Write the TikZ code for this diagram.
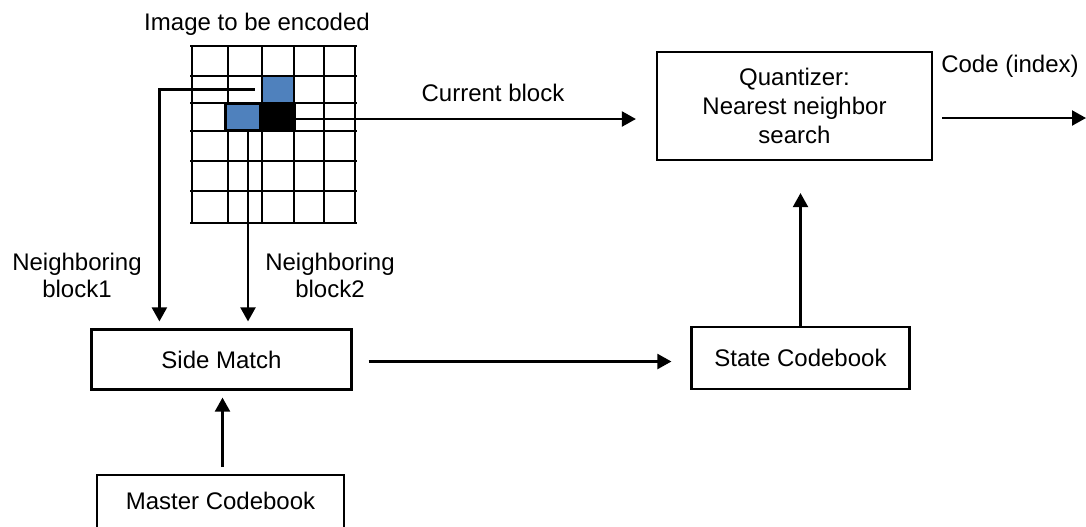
\documentclass[tikz,border=0pt]{standalone}
\usepackage{fontspec}
\setmainfont{Liberation Sans}
\usetikzlibrary{arrows.meta}
\definecolor{cellblue}{RGB}{79,129,189}
\tikzset{
  box/.style={draw, line width=1.1pt, inner sep=0pt},
  cell/.style={draw, line width=1.1pt, inner sep=0pt, minimum height=13.5pt},
  arr/.style={line width=1.1pt, -{Triangle[length=7pt,width=7.5pt]}},
  ln/.style={line width=1.1pt},
}
\begin{document}
\begin{tikzpicture}[x=0.5pt,y=-0.5pt,font=\fontsize{12}{14.5}\selectfont]
        \useasboundingbox (0,0) rectangle (1086,526);
        % image to be encoded
        \foreach \x in {192,228,262,294,324,355}
            \draw[ln] (\x,46) -- (\x,223);
        \foreach \y in {46,76,103,131,161,191,223}
            \draw[ln] (190,\y) -- (357,\y);
        \node[cell, fill=cellblue, minimum width=16pt] (nb1) at (278,89.5) {};
        \node[cell, fill=cellblue, minimum width=17.5pt] (nb2) at (243,117) {};
        \node[cell, fill=black, minimum width=17pt] (cur) at (277.5,117) {};
        \node (img) at (257,24) {Image to be encoded};

        % blocks
        \node[box, minimum width=137.5pt, minimum height=54pt, align=center] (qz) at (794.5,106) {Quantizer:\\Nearest neighbor\\search};
        \node[box, minimum width=130pt, minimum height=30pt] (sm) at (221.5,359.5) {Side Match};
        \node[box, minimum width=109pt, minimum height=31pt] (st) at (800.5,358) {State Codebook};
        \node[box, anchor=north, minimum width=123.5pt, text height=17pt, text depth=14pt] (ms) at (220.5,474) {Master Codebook};

        % labels
        \node (lcur) at (493,93) {Current block};
        \node (lcode) at (1010,66) {Code (index)};
        \node[align=center, font=\fontsize{12}{13.5}\selectfont] (lnb1) at (77,275) {Neighboring\\block1};
        \node[align=center, font=\fontsize{12}{13.5}\selectfont] (lnb2) at (330,275) {Neighboring\\block2};
        \coordinate (out) at (1086,118);

        % connectors
        \draw[arr, shorten <=3pt, shorten >=3.5pt] (nb1.west) -| ([xshift=34.5pt]sm.north west);
        \draw[arr, shorten >=3.5pt] ([xshift=2.5pt]nb2.south) -- ([xshift=2.5pt]nb2.south |- sm.north);
        \draw[arr, shorten >=10pt] ([yshift=-1pt]cur.east) -- ([yshift=-1pt]cur.east -| qz.west);
        \draw[arr, shorten <=4.5pt] (qz.east |- out) -- (out);
        \draw[arr, shorten <=8pt, shorten >=9.5pt] ([yshift=-1pt]sm.east) -- ([yshift=-1pt]sm.east -| st.west);
        \draw[arr, shorten >=16pt] (st.north) -- (st.north |- qz.south);
        \draw[arr, shorten <=3.5pt, shorten >=3.5pt] ([xshift=1pt]ms.north) -- ([xshift=1pt]ms.north |- sm.south);
\end{tikzpicture}
\end{document}
